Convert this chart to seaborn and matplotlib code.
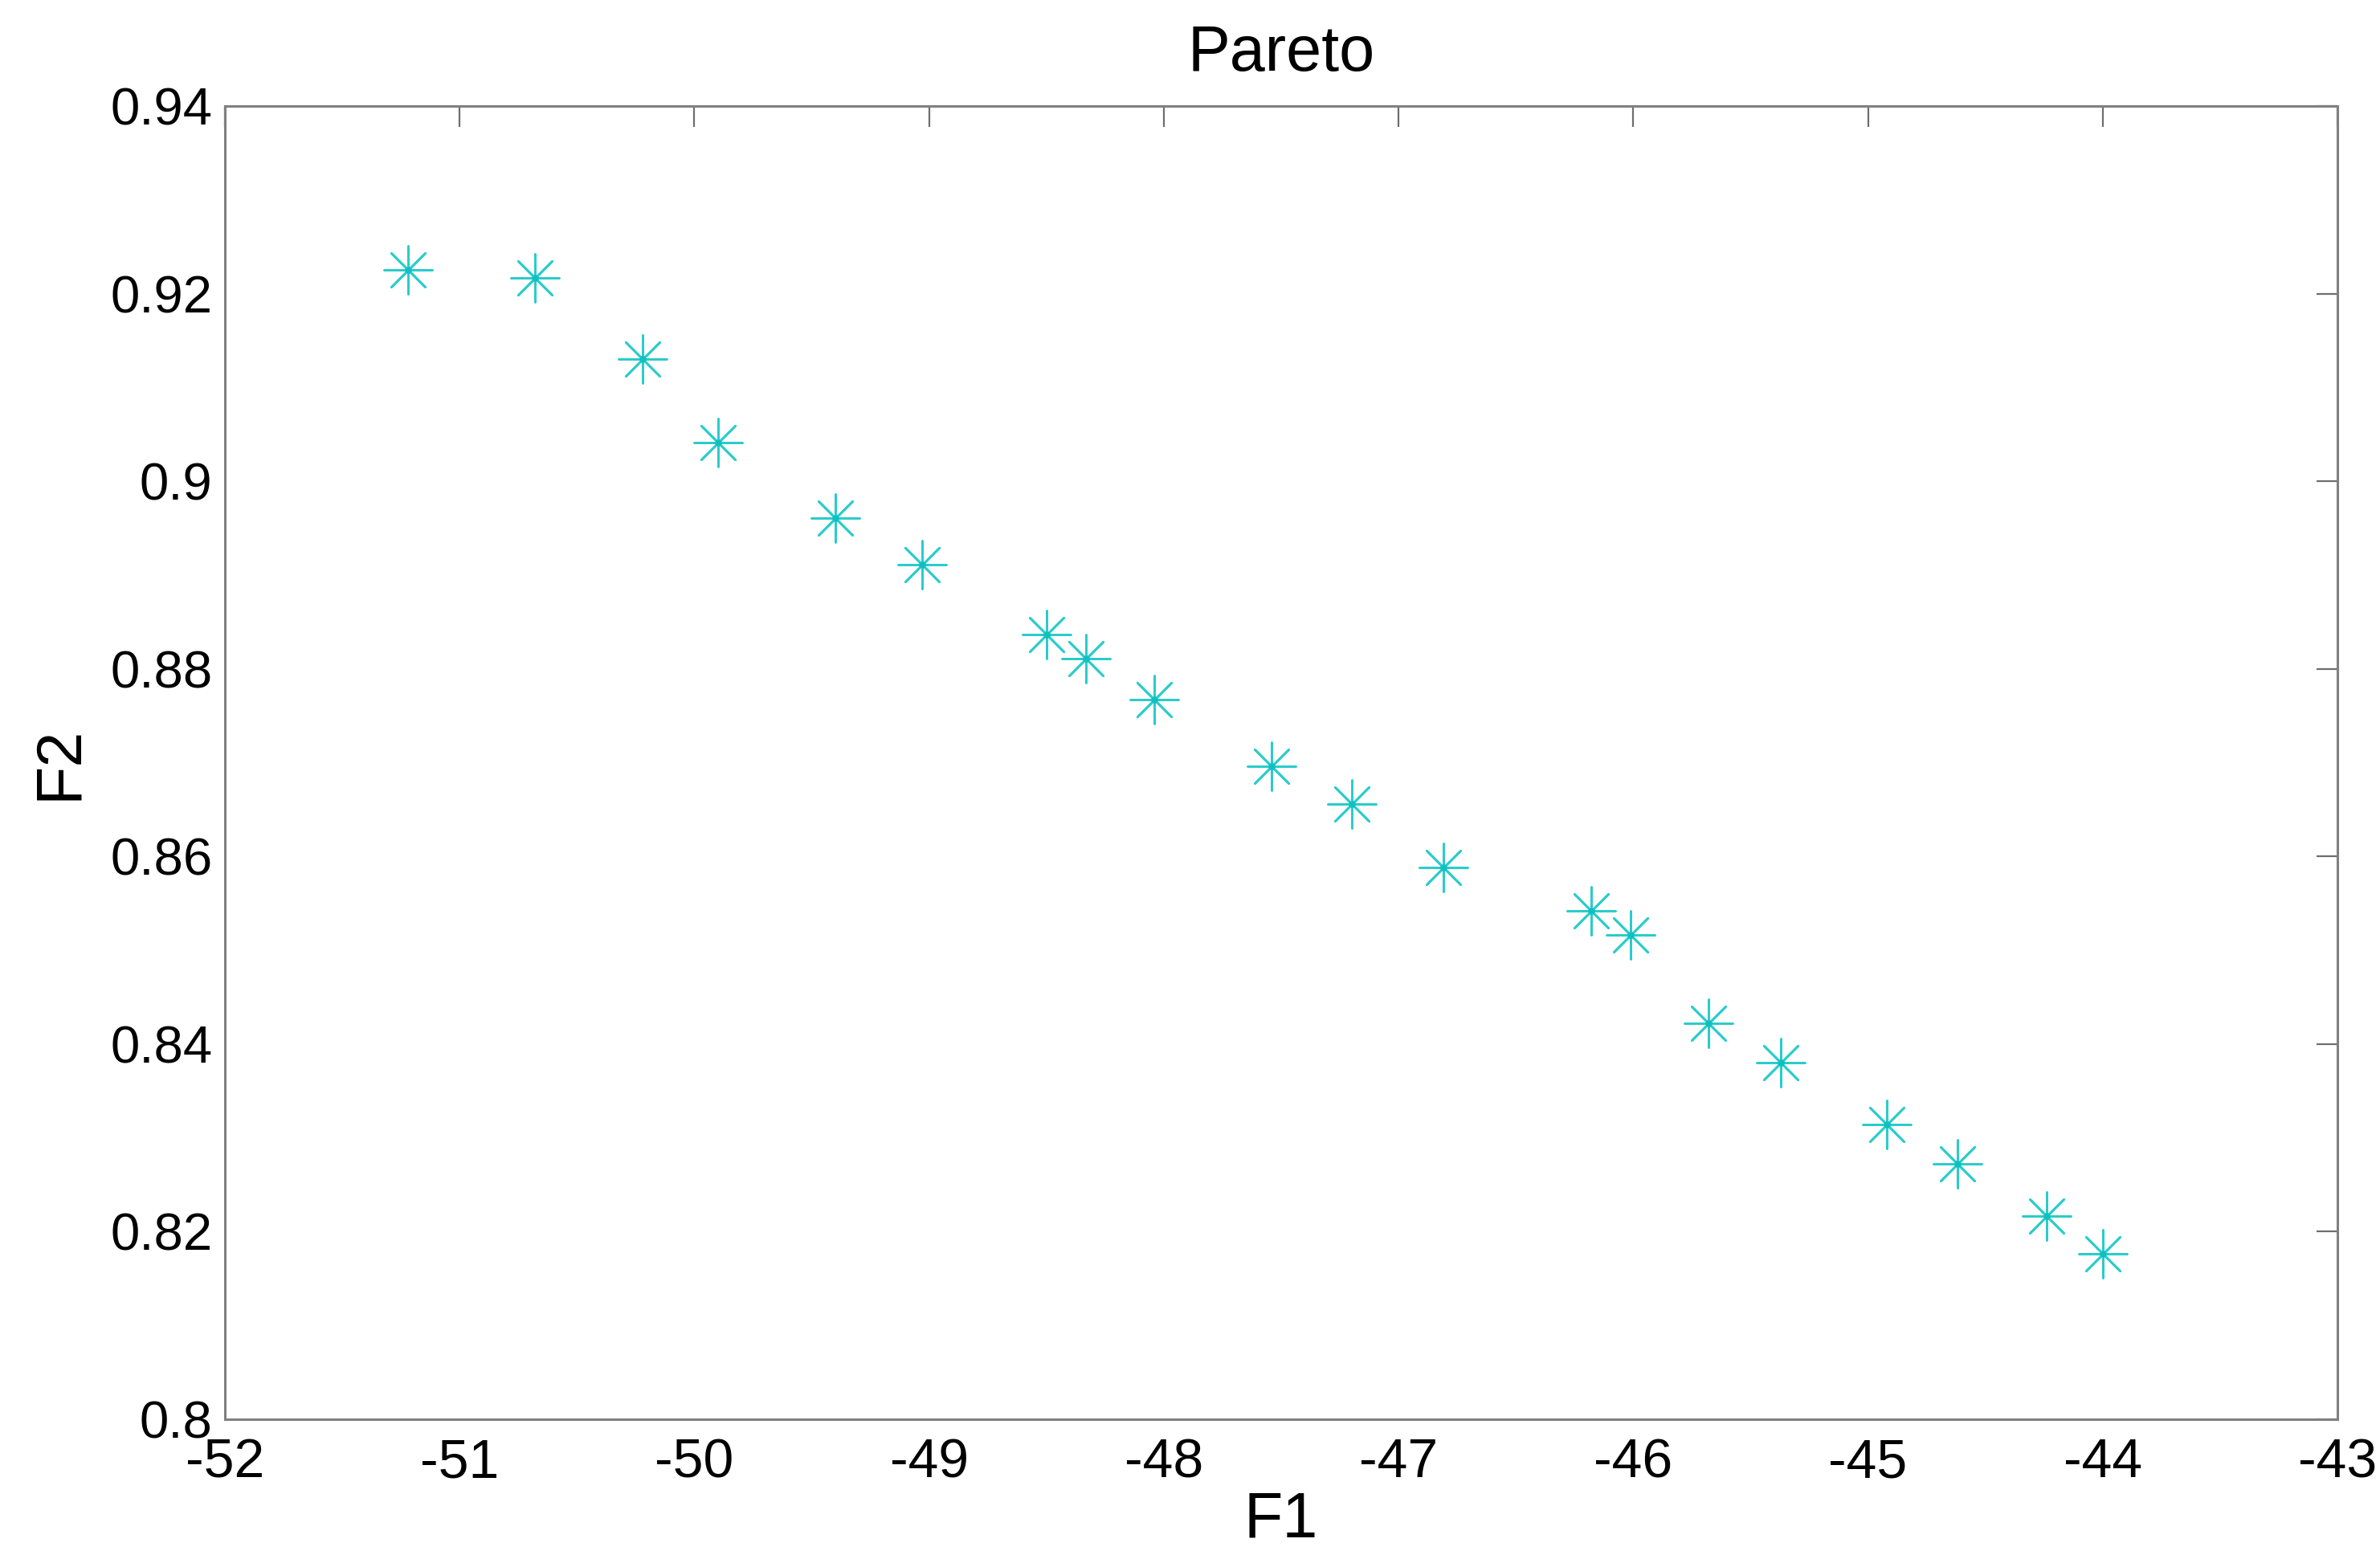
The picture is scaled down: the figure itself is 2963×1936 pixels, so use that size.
import matplotlib
matplotlib.use("Agg")
import matplotlib.pyplot as plt
import seaborn as sns
import pandas as pd

# Data
f1 = [-51.22, -50.68, -50.22, -49.90, -49.40, -49.03, -48.50, -48.33, -48.04, -47.54,
      -47.20, -46.81, -46.18, -46.01, -45.68, -45.37, -44.92, -44.62, -44.24, -44.00]
f2 = [0.9225, 0.9217, 0.9130, 0.9041, 0.8961, 0.8911, 0.8837, 0.8811, 0.8767, 0.8696,
      0.8656, 0.8588, 0.8542, 0.8516, 0.8422, 0.8380, 0.8314, 0.8272, 0.8217, 0.8176]
xticks = [-52, -51, -50, -49, -48, -47, -46, -45, -44, -43]
yticks = [0.8, 0.82, 0.84, 0.86, 0.88, 0.9, 0.92, 0.94]
ytick_labels = ["0.8", "0.82", "0.84", "0.86", "0.88", "0.9", "0.92", "0.94"]

df = pd.DataFrame({"F1": f1, "F2": f2})

sns.set_theme(style="white")
plt.rcParams['font.family'] = ['Liberation Sans', 'DejaVu Sans']
plt.rcParams['text.color'] = 'black'
plt.rcParams['axes.labelcolor'] = 'black'

fig = plt.figure(figsize=(29.63, 19.36), dpi=100)
ax = fig.add_axes([0.0945, 0.0873, 0.9821 - 0.0945, 0.9318 - 0.0873])

col = "#2ACCCC"
sns.scatterplot(data=df, x="F1", y="F2", ax=ax, marker=(8, 2, 0), s=43**2,
                color=col, linewidth=1.9, edgecolor=col, zorder=3)
sns.scatterplot(data=df, x="F1", y="F2", ax=ax, marker="o", s=6**2,
                color="#12BFBF", linewidth=0, zorder=4)

ax.set_xlim(-52, -43)
ax.set_ylim(0.8, 0.94)
ax.set_xticks(xticks)
ax.set_xticklabels([str(t) for t in xticks])
ax.set_yticks(yticks)
ax.set_yticklabels(ytick_labels)

for s in ax.spines.values():
    s.set_visible(True)
    s.set_color("#808080")
    s.set_linewidth(2.2)

ax.tick_params(axis="both", which="both", direction="in", length=19, width=1.6,
               color="#6e6e6e", top=True, right=True, labelcolor="black")
ax.tick_params(axis="x", pad=16, labelsize=49)
ax.tick_params(axis="y", pad=11, labelsize=47)

ax.set_xlabel("F1", fontsize=57, labelpad=2, color="black")
ax.set_ylabel("F2", fontsize=57, labelpad=18, color="black")
ax.set_title("Pareto", fontsize=57, pad=32, color="black")
ax.grid(False)

fig.savefig("out.png", dpi=100, facecolor="white")
